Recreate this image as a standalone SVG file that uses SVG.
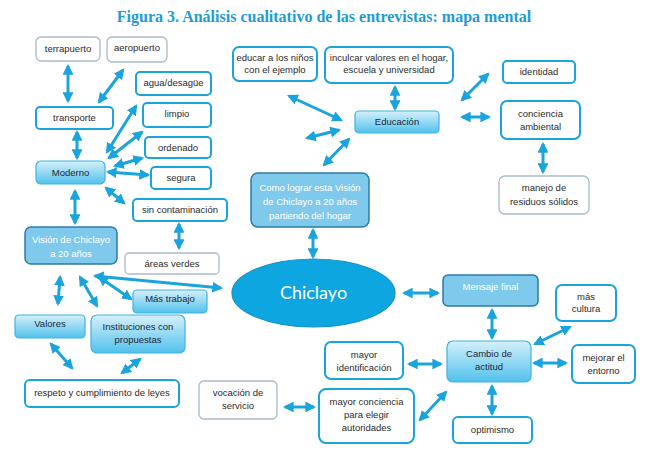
<svg xmlns="http://www.w3.org/2000/svg" width="657" height="461" viewBox="0 0 657 461">
<defs>
<linearGradient id="g" x1="0" y1="0" x2="0" y2="1">
<stop offset="0" stop-color="#d4f0fb"/>
<stop offset="1" stop-color="#52c1ec"/>
</linearGradient>
<marker id="ah" viewBox="0 0 10 10" refX="8" refY="5" markerWidth="3.6" markerHeight="3.6" orient="auto-start-reverse">
<path d="M0,0 L10,5 L0,10 z" fill="#1aa4de"/>
</marker>
<style>
.t{font-family:"Liberation Sans",Arial,sans-serif;font-size:9.5px;fill:#2b2b2b;text-anchor:middle}
.tw{font-family:"Liberation Sans",Arial,sans-serif;font-size:9.5px;fill:#ffffff;text-anchor:middle}
.tg{font-family:"Liberation Sans",Arial,sans-serif;font-size:9.5px;fill:#1c2838;text-anchor:middle}
.b{fill:#ffffff;stroke:#1aa4de;stroke-width:2}
.y{fill:#ffffff;stroke:#a8bccb;stroke-width:1.3}
.gr{fill:url(#g);stroke:#3fb3e3;stroke-width:1.2}
.s{fill:#7fcaec;stroke:#2d7aa6;stroke-width:1.5}
.c line{stroke:#1aa4de;stroke-width:3;marker-start:url(#ah);marker-end:url(#ah)}
</style>
</defs>
<rect width="657" height="461" fill="#ffffff"/>
<text x="324" y="22" text-anchor="middle" font-family="Liberation Serif,serif" font-weight="bold" font-size="16" fill="#1e9bd7">Figura 3. Análisis cualitativo de las entrevistas: mapa mental</text>

<g class="c">
<line x1="68" y1="66" x2="68" y2="101"/>
<line x1="123" y1="70" x2="99" y2="102"/>
<line x1="136" y1="106" x2="107" y2="152"/>
<line x1="142" y1="132" x2="109" y2="158"/>
<line x1="142" y1="158" x2="115" y2="166"/>
<line x1="108" y1="172" x2="148" y2="175"/>
<line x1="106" y1="188" x2="124" y2="203"/>
<line x1="77" y1="132" x2="77" y2="158"/>
<line x1="75" y1="191" x2="75" y2="223"/>
<line x1="179" y1="224" x2="179" y2="248"/>
<line x1="289" y1="96" x2="341" y2="120"/>
<line x1="307" y1="138" x2="339" y2="130"/>
<line x1="324" y1="165" x2="349" y2="139"/>
<line x1="395" y1="87" x2="395" y2="109"/>
<line x1="462" y1="100" x2="488" y2="74"/>
<line x1="462" y1="117" x2="489" y2="117"/>
<line x1="543" y1="144" x2="543" y2="172"/>
<line x1="313" y1="230" x2="313" y2="257"/>
<line x1="95" y1="276" x2="221" y2="288"/>
<line x1="99" y1="277" x2="131" y2="299"/>
<line x1="60" y1="277" x2="58" y2="304"/>
<line x1="80" y1="277" x2="97" y2="306"/>
<line x1="51" y1="344" x2="72" y2="368"/>
<line x1="122" y1="373" x2="140" y2="359"/>
<line x1="285" y1="407" x2="314" y2="407"/>
<line x1="420" y1="420" x2="446" y2="392"/>
<line x1="409" y1="364" x2="441" y2="364"/>
<line x1="492" y1="310" x2="492" y2="338"/>
<line x1="535" y1="344" x2="570" y2="327"/>
<line x1="534" y1="363" x2="566" y2="363"/>
<line x1="492" y1="386" x2="492" y2="414"/>
<line x1="404" y1="293" x2="438" y2="293"/>
</g>

<g id="terrapuerto"><rect class="y" x="36" y="37" width="64" height="24" rx="5"/><text class="t" x="68" y="52">terrapuerto</text></g>
<g id="aeropuerto"><rect class="y" x="107" y="37" width="60" height="25" rx="5"/><text class="t" x="137" y="51">aeropuerto</text></g>
<g id="agua"><rect class="b" x="136" y="72" width="75" height="23" rx="4"/><text class="t" x="173.5" y="86">agua/desagüe</text></g>
<g id="limpio"><rect class="b" x="143" y="103" width="68" height="24" rx="4"/><text class="t" x="177" y="117">limpio</text></g>
<g id="ordenado"><rect class="b" x="145" y="137" width="66" height="21" rx="4"/><text class="t" x="178" y="151">ordenado</text></g>
<g id="segura"><rect class="b" x="151" y="167" width="60" height="22" rx="4"/><text class="t" x="181" y="181">segura</text></g>
<g id="sincontaminacion"><rect class="b" x="133" y="199" width="94" height="22" rx="4"/><text class="t" x="180" y="213">sin contaminación</text></g>
<g id="transporte"><rect class="b" x="36" y="107" width="77" height="22" rx="4"/><text class="t" x="74.5" y="121">transporte</text></g>
<g id="moderno"><rect class="gr" x="36" y="161" width="69" height="23" rx="5"/><text class="tg" x="70.5" y="176">Moderno</text></g>
<g id="vision"><rect class="s" x="25" y="227" width="92" height="37" rx="6"/><text class="tw" x="71" y="243">Visión de Chiclayo</text><text class="tw" x="71" y="257">a 20 años</text></g>
<g id="areasverdes"><rect class="y" x="125" y="253" width="94" height="21" rx="4"/><text class="t" x="172" y="267">áreas verdes</text></g>
<g id="mastrabajo"><rect class="gr" x="133" y="290" width="74" height="23" rx="4"/><text class="tg" x="170" y="302">Más trabajo</text></g>
<g id="valores"><rect class="gr" x="15" y="315" width="70" height="23" rx="4"/><text class="tg" x="50" y="327">Valores</text></g>
<g id="instituciones"><rect class="gr" x="91" y="315" width="94" height="38" rx="6"/><text class="tg" x="138" y="330">Instituciones con</text><text class="tg" x="138" y="343">propuestas</text></g>
<g id="respeto"><rect class="b" x="25" y="380" width="154" height="27" rx="5"/><text class="t" x="102" y="396">respeto y cumplimiento de leyes</text></g>
<g id="vocacion"><rect class="y" x="199" y="381" width="78" height="38" rx="5"/><text class="t" x="238" y="396">vocación de</text><text class="t" x="238" y="409">servicio</text></g>
<g id="educar"><rect class="b" x="233" y="47" width="84" height="34" rx="6"/><text class="t" x="275" y="61">educar a los niños</text><text class="t" x="275" y="73">con el ejemplo</text></g>
<g id="inculcar"><rect class="b" x="325" y="47" width="128" height="36" rx="6"/><text class="t" x="389" y="61">inculcar valores en el hogar,</text><text class="t" x="389" y="73">escuela y universidad</text></g>
<g id="educacion"><rect class="gr" x="355" y="111" width="84" height="22" rx="4"/><text class="tg" x="397" y="125">Educación</text></g>
<g id="identidad"><rect class="b" x="503" y="61" width="72" height="22" rx="4"/><text class="t" x="539" y="75">identidad</text></g>
<g id="conciencia"><rect class="b" x="501" y="101" width="79" height="38" rx="6"/><text class="t" x="540.5" y="117">conciencia</text><text class="t" x="540.5" y="130">ambiental</text></g>
<g id="manejo"><rect class="y" x="499" y="176" width="90" height="38" rx="6"/><text class="t" x="544" y="191">manejo de</text><text class="t" x="544" y="205">residuos sólidos</text></g>
<g id="comolograr"><rect class="s" x="251" y="173" width="118" height="54" rx="7" stroke="#2a86b8"/><text class="tw" x="310" y="191">Como lograr esta Visión</text><text class="tw" x="310" y="205">de Chiclayo a 20 años</text><text class="tw" x="310" y="219">partiendo del hogar</text></g>
<g id="chiclayo"><ellipse cx="313.5" cy="293" rx="81.5" ry="34" fill="#0da6e1" stroke="#1591c6" stroke-width="1.2"/><text x="313.5" y="299" text-anchor="middle" font-family="Lato,Liberation Sans,sans-serif" font-size="18" fill="#ffffff">Chiclayo</text></g>
<g id="mensaje"><rect class="s" x="443" y="275" width="95" height="31" rx="5"/><text class="tw" x="490.5" y="290">Mensaje final</text></g>
<g id="cultura"><rect class="b" x="556" y="285" width="60" height="36" rx="6"/><text class="t" x="586" y="300">más</text><text class="t" x="586" y="312">cultura</text></g>
<g id="cambio"><rect class="gr" x="447" y="341" width="84" height="41" rx="6"/><text class="tg" x="489" y="357">Cambio de</text><text class="tg" x="489" y="370">actitud</text></g>
<g id="mejorar"><rect class="b" x="572" y="345" width="63" height="38" rx="6"/><text class="t" x="603.5" y="361">mejorar el</text><text class="t" x="603.5" y="374">entorno</text></g>
<g id="identificacion"><rect class="b" x="325" y="342" width="78" height="37" rx="6"/><text class="t" x="364" y="358">mayor</text><text class="t" x="364" y="371">identificación</text></g>
<g id="mayorconciencia"><rect class="b" x="319" y="389" width="95" height="54" rx="7"/><text class="t" x="366.5" y="405">mayor conciencia</text><text class="t" x="366.5" y="418">para elegir</text><text class="t" x="366.5" y="431">autoridades</text></g>
<g id="optimismo"><rect class="b" x="453" y="417" width="79" height="26" rx="5"/><text class="t" x="492.5" y="433">optimismo</text></g>
</svg>
